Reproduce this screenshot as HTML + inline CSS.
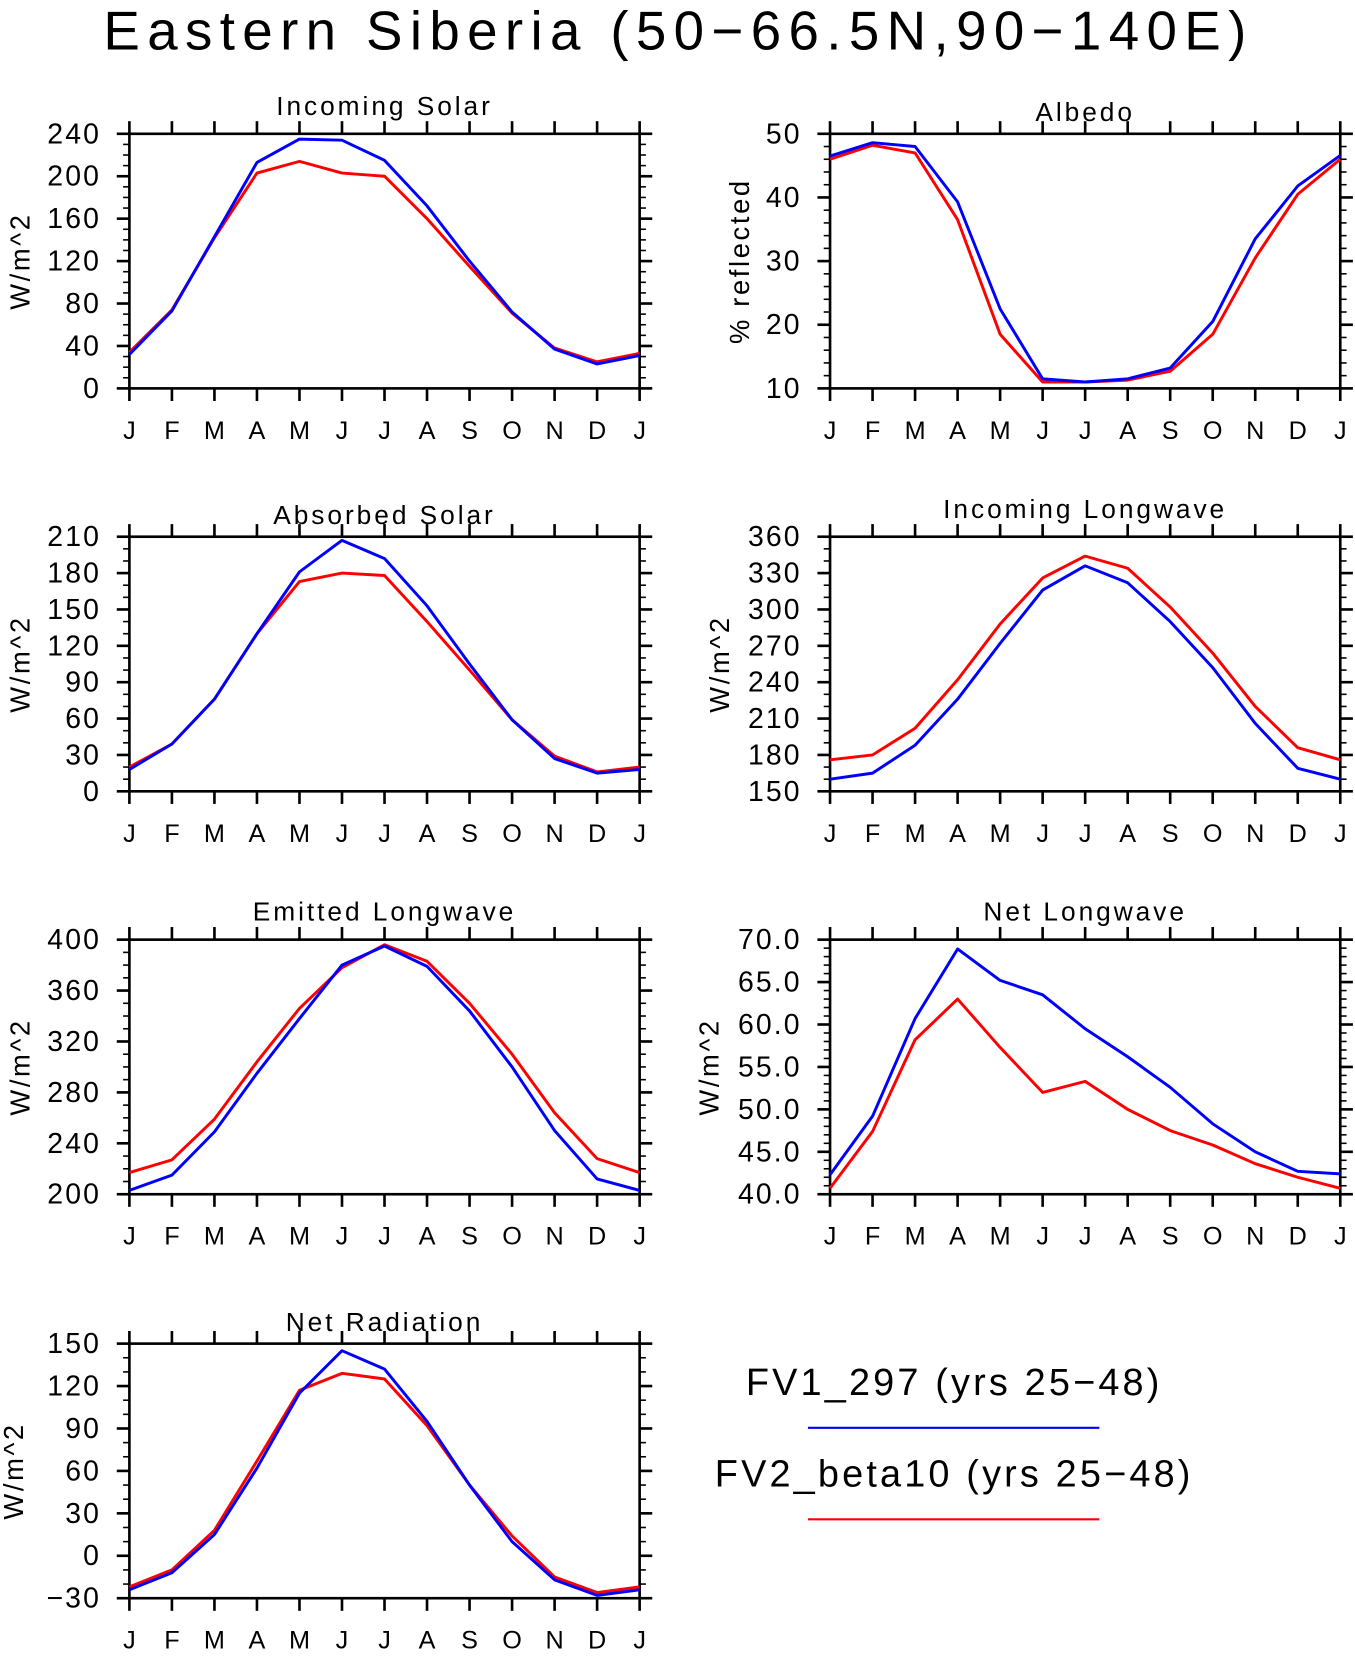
<!DOCTYPE html>
<html><head><meta charset="utf-8">
<style>
html,body{margin:0;padding:0;background:#fff;}
svg text{font-family:"Liberation Sans",sans-serif;fill:#000;}
</style></head>
<body>
<svg id="fig" width="1355" height="1651" viewBox="0 0 1288 1569" xmlns="http://www.w3.org/2000/svg">
<text x="645" y="47" font-size="52" text-anchor="middle" letter-spacing="7">Eastern Siberia (50−66.5N,90−140E)</text>
<g>
<text x="907" y="1326" font-size="36" text-anchor="middle" letter-spacing="3">FV1_297 (yrs 25−48)</text>
<line x1="768" y1="1357" x2="1045" y2="1357" stroke="#0000ff" stroke-width="2"/>
<text x="907" y="1413" font-size="36" text-anchor="middle" letter-spacing="3">FV2_beta10 (yrs 25−48)</text>
<line x1="768" y1="1444" x2="1045" y2="1444" stroke="#ff0000" stroke-width="2"/>
</g>
</svg>
<script>
const months = ["J","F","M","A","M","J","J","A","S","O","N","D","J"];
const incSolarBlue = [32,73,143,213,235,234,215,172,120,72,37,23,31];
const incSolarRed = [34,74,142,203,214,203,200,160,115,71,38,25,33];
const albedoBlue = [46.5,48.6,48,39.3,22.5,11.5,11,11.5,13.2,20.5,33.5,41.8,46.6];
const albedoRed = [46,48.2,47,36.5,18.5,11,11,11.3,12.7,18.5,30.5,40.5,46];
const absSolarBlue = [18,39,76,130,181,207,192,153,105,59,27,15,18];
const absSolarRed = [20,39,76,130,173,180,178,140,100,59,29,16,20];
const incLWBlue = [160,165,188,226,272,316,336,322,290,252,206,169,160];
const incLWRed = [176,180,202,242,288,326,344,334,302,264,220,186,176];
const emitLWBlue = [203,215,249,295,338,380,395,379,344,300,250,212,203];
const emitLWRed = [217,227,259,304,346,378,396,383,350,310,264,228,217];
const netLWBlue = [42.3,49.2,60.7,68.9,65.2,63.5,59.5,56.2,52.6,48.3,45,42.7,42.4];
const netLWRed = [40.7,47.4,58.2,63,57.3,52,53.3,50,47.5,45.8,43.6,42,40.7];
const netRadBlue = [-24,-12,15,62,115,145,132,95,50,10,-17,-28,-24];
const netRadRed = [-22,-10,18,67,117,129,125,92,50,14,-15,-26,-22];

const NS="http://www.w3.org/2000/svg";
const svg=document.getElementById('fig');
function mk(tag,attrs,parent){const e=document.createElementNS(NS,tag);for(const k in attrs)e.setAttribute(k,attrs[k]);(parent||svg).appendChild(e);return e;}

function panel(o){
  const g=mk('g',{});
  
  
  const x0=o.x, x1=o.x+485, yT=o.y, yB=o.y+242;
  const sx=i=>x0+(x1-x0)*i/12;
  const sy=v=>yB-(yB-yT)*(v-o.min)/(o.max-o.min);
  const t=mk('text',{x:(x0+x1)/2,y:yT-o.tOff,'font-size':25,'text-anchor':'middle','letter-spacing':2.8},g);
  t.textContent=o.title;
  
  
  const nMin=Math.round((o.max-o.min)/o.minor);
  for(let k=0;k<=nMin;k++){const v=o.min+k*o.minor;const y=sy(v);
    mk('line',{x1:x0-6,x2:x0,y1:y,y2:y,stroke:'#000','stroke-width':1.5},g);
    mk('line',{x1:x1,x2:x1+6,y1:y,y2:y,stroke:'#000','stroke-width':1.5},g);}
  const nMaj=Math.round((o.max-o.min)/o.major);
  for(let k=0;k<=nMaj;k++){const v=o.min+k*o.major;const y=sy(v);
    mk('line',{x1:x0-12,x2:x0,y1:y,y2:y,stroke:'#000','stroke-width':2.5},g);
    mk('line',{x1:x1,x2:x1+12,y1:y,y2:y,stroke:'#000','stroke-width':2.5},g);
    const tl=mk('text',{x:x0-27,y:y+9,'font-size':27,'text-anchor':'end','letter-spacing':2},g);
    tl.textContent=o.dec?v.toFixed(1):String(v).replace('-','−');
    
    }
  for(let i=0;i<13;i++){const x=sx(i);
    mk('line',{x1:x,x2:x,y1:yT-12,y2:yT,stroke:'#000','stroke-width':2.5},g);
    mk('line',{x1:x,x2:x,y1:yB,y2:yB+12,stroke:'#000','stroke-width':2.5},g);
    const ml=mk('text',{x:x,y:yB+48,'font-size':24,'text-anchor':'middle'},g);
    ml.textContent=months[i];
    
    }
  mk('rect',{x:x0,y:yT,width:x1-x0,height:yB-yT,fill:'none',stroke:'#000','stroke-width':2.5},g);
  const yl=mk('text',{transform:`translate(${o.yLabX},${(yT+yB)/2}) rotate(-90)`,'font-size':26,'text-anchor':'middle','letter-spacing':2.5},g);
  yl.textContent=o.ylab;
  
  
  [[o.red,'#ff0000','series-fv2'],[o.blue,'#0000ff','series-fv1']].forEach(([d,c,n])=>{
    const p=mk('polyline',{points:d.map((v,i)=>sx(i)+','+sy(v)).join(' '),fill:'none',stroke:c,'stroke-width':2.8,'stroke-linejoin':'round'},g);
    
    
  });
}
const L=123,R=789;
panel({name:'incoming-solar-panel',title:'Incoming Solar',x:L,y:127,min:0,max:240,major:40,minor:10,blue:incSolarBlue,red:incSolarRed,ylab:'W/m^2',yLabX:28,tOff:18});
panel({name:'albedo-panel',title:'Albedo',x:R,y:127,min:10,max:50,major:10,minor:2,blue:albedoBlue,red:albedoRed,ylab:'% reflected',yLabX:712,tOff:12});
panel({name:'absorbed-solar-panel',title:'Absorbed Solar',x:L,y:510,min:0,max:210,major:30,minor:10,blue:absSolarBlue,red:absSolarRed,ylab:'W/m^2',yLabX:28,tOff:12});
panel({name:'incoming-longwave-panel',title:'Incoming Longwave',x:R,y:510,min:150,max:360,major:30,minor:10,blue:incLWBlue,red:incLWRed,ylab:'W/m^2',yLabX:693,tOff:18});
panel({name:'emitted-longwave-panel',title:'Emitted Longwave',x:L,y:893,min:200,max:400,major:40,minor:10,blue:emitLWBlue,red:emitLWRed,ylab:'W/m^2',yLabX:28,tOff:18});
panel({name:'net-longwave-panel',title:'Net Longwave',x:R,y:893,min:40,max:70,major:5,minor:1,dec:true,blue:netLWBlue,red:netLWRed,ylab:'W/m^2',yLabX:683,tOff:18});
panel({name:'net-radiation-panel',title:'Net Radiation',x:L,y:1277,min:-30,max:150,major:30,minor:10,blue:netRadBlue,red:netRadRed,ylab:'W/m^2',yLabX:22,tOff:12});
</script>
</body></html>
